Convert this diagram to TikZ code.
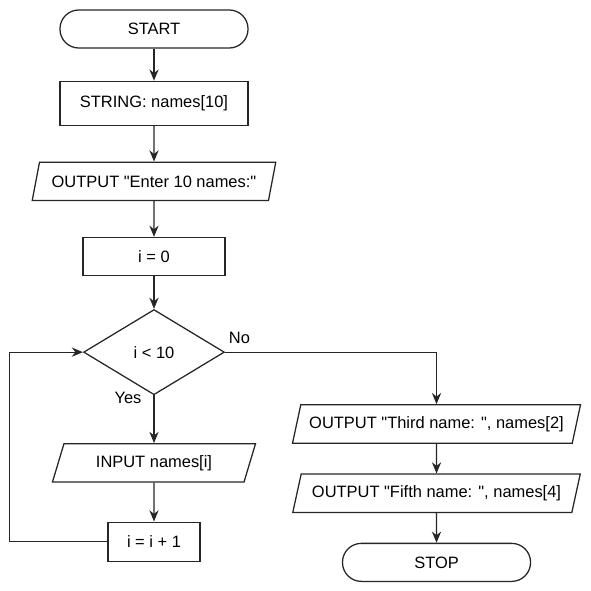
\documentclass[tikz,border=0pt]{standalone}
\usepackage{fontspec}
\setmainfont{Liberation Sans}[Ligatures=TeXOff]
\usepackage{tikz}
\usetikzlibrary{arrows.meta,calc,positioning,shapes.geometric}
\tikzset{
  flow/.style={-{Stealth[length=2.8mm,width=2.3mm]}, line width=0.9pt, draw=black!85},
  terminal/.style={draw=black!85, line width=0.9pt, rectangle, rounded corners=0.47cm, minimum width=4.7cm, minimum height=0.95cm, align=center},
  process/.style={draw=black!85, line width=0.9pt, rectangle, minimum height=0.95cm, align=center},
  io/.style={draw=black!85, line width=0.9pt, trapezium, trapezium left angle=72, trapezium right angle=108, trapezium stretches=true, minimum height=0.96cm, align=center},
  decision/.style={draw=black!85, line width=0.9pt, diamond, inner sep=0pt, minimum width=3.52cm, minimum height=2.13cm, align=center},
  lbl/.style={inner sep=0pt}
}

\begin{document}
\begin{tikzpicture}[x=0.025cm, y=-0.025cm, font=\fontsize{11.7}{14}\selectfont]
  \useasboundingbox (0,0) rectangle (591,591);
  % main column
  \node[terminal] (start) at (154,29) {START};
  \node[process, below=0.8cm of start, minimum width=4.7cm, minimum height=1.1cm] (decl) {STRING: names[10]};
  \node[io, below=0.89cm of decl, minimum width=6.1cm] (prompt) {OUTPUT "Enter 10 names:"};
  \node[process, below=0.89cm of prompt, minimum width=3.55cm] (init) {i = 0};
  \node[decision, below=0.82cm of init] (test) {i < 10};
  \node[io, below=1.19cm of test, minimum width=5.1cm] (read) {INPUT names[i]};
  \node[process, below=0.97cm of read, minimum width=2.3cm, minimum height=0.975cm] (incr) {i = i + 1};
  % right column
  \node[io, minimum width=7.2cm] (third) at (436.5,424) {OUTPUT "Third name: ", names[2]};
  \node[io, below=0.74cm of third, minimum width=7.2cm] (fifth) {OUTPUT "Fifth name: ", names[4]};
  \node[terminal, below=0.74cm of fifth] (stop) {STOP};
  \coordinate (loopx) at (9.5,0);

  \draw[flow] (start) -- (decl);
  \draw[flow] (decl) -- (prompt);
  \draw[flow] (prompt) -- (init);
  \draw[flow] (init) -- (test);
  \draw[flow] (test.south) -- node[lbl, pos=0, anchor=east, xshift=-0.3cm, yshift=-0.06cm] {Yes} (read.north);
  \draw[flow] (read) -- (incr);
  \draw[flow] (incr.west) -- (incr.west -| loopx) |- (test.west);
  \draw[flow] (test.east) -- node[lbl, pos=0, anchor=south west, xshift=0.08cm, yshift=0.2cm] {No} (test.east -| third.north) -- (third.north);
  \draw[flow] (third) -- (fifth);
  \draw[flow] (fifth) -- (stop);
\end{tikzpicture}
\end{document}
